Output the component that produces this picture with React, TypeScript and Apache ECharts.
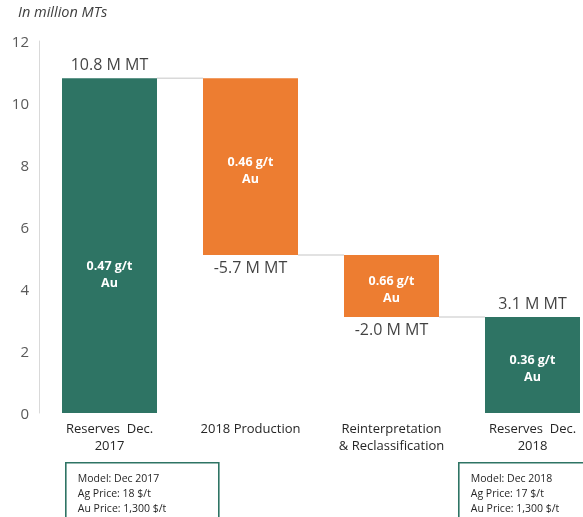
import React, { useEffect, useRef } from "react";
import * as echarts from "echarts";

const categories = [
  "Reserves  Dec.\n2017",
  "2018 Production",
  "Reinterpretation\n& Reclassification",
  "Reserves  Dec.\n2018",
];
const changes = [10.8, -5.7, -2.0, 3.1];
const isTotal = [true, false, false, true];
const grades = ["0.47 g/t", "0.46 g/t", "0.66 g/t", "0.36 g/t"];
const valueLabels = ["10.8 M MT", "-5.7 M MT", "-2.0 M MT", "3.1 M MT"];
const yMin = 0;
const yMax = 12;
const yInterval = 2;
const unitTitle = "In million MTs";
const boxLeft = [
  "Model: Dec 2017",
  "Ag Price: 18 $/t",
  "Au Price: 1,300 $/t",
];
const boxRight = [
  "Model: Dec 2018",
  "Ag Price: 17 $/t",
  "Au Price: 1,300 $/t",
];

const GREEN = "#2E7464";
const ORANGE = "#ED7D31";
const FONT = "'Open Sans', 'Noto Sans', sans-serif";
const BAR_W = 95;

export default function App() {
  const ref = useRef<HTMLDivElement>(null);

  useEffect(() => {
    if (!ref.current) return;
    const chart = echarts.init(ref.current, undefined, { renderer: "svg" });

    // waterfall geometry from the data
    const bases: number[] = [];
    const heights: number[] = [];
    const levels: number[] = [];
    let running = 0;
    changes.forEach((c, i) => {
      if (isTotal[i]) {
        bases.push(0);
        heights.push(c);
        running = c;
      } else {
        const next = running + c;
        bases.push(Math.min(running, next));
        heights.push(Math.abs(c));
        running = next;
      }
      levels.push(Math.round(running * 100) / 100);
    });

    const connectorData = levels.slice(0, -1).map((lv, i) => [i, lv]);

    const topLabels: any[] = [];
    const bottomLabels: any[] = [];
    changes.forEach((c, i) => {
      if (c >= 0) {
        topLabels.push({ value: [i, bases[i] + heights[i]], name: valueLabels[i] });
      } else {
        bottomLabels.push({ value: [i, bases[i]], name: valueLabels[i] });
      }
    });

    const boxText = (lines: string[], x: number) => ({
      type: "group",
      left: x,
      top: 462,
      children: [
        {
          type: "rect",
          shape: { x: 0, y: 0, width: 153, height: 70 },
          style: { fill: "#fff", stroke: GREEN, lineWidth: 1.6 },
        },
        {
          type: "text",
          x: 12,
          y: 8,
          style: {
            text: lines.join("\n"),
            font: `10.5px ${FONT}`,
            fill: "#262626",
            lineHeight: 15,
          },
        },
      ],
    });

    chart.setOption({
      animation: false,
      grid: {
        left: 39,
        right: -20,
        top: 41,
        bottom: 104,
        containLabel: false,
        outerBoundsMode: "none",
      },
      xAxis: {
        type: "category",
        data: categories,
        axisLine: { show: false },
        axisTick: { show: false },
        axisLabel: {
          interval: 0,
          margin: 6,
          color: "#262626",
          fontFamily: FONT,
          fontSize: 13,
          lineHeight: 17,
        },
      },
      yAxis: {
        type: "value",
        min: yMin,
        max: yMax,
        interval: yInterval,
        splitLine: { show: false },
        axisTick: { show: false },
        axisLine: { show: true, lineStyle: { color: "#D9D9D9", width: 1 } },
        axisLabel: {
          margin: 10,
          color: "#595959",
          fontFamily: FONT,
          fontSize: 15,
        },
      },
      series: [
        {
          name: "connectors",
          type: "custom",
          z: 1,
          silent: true,
          data: connectorData,
          renderItem: (params: any, api: any) => {
            const p = api.coord([api.value(0), api.value(1)]);
            const band = api.size([1, 0])[0];
            return {
              type: "line",
              shape: {
                x1: p[0] + BAR_W / 2,
                y1: p[1],
                x2: p[0] + band - BAR_W / 2,
                y2: p[1],
              },
              style: { stroke: "#D9D9D9", lineWidth: 1.5 },
            };
          },
        },
        {
          name: "base",
          type: "bar",
          stack: "wf",
          z: 2,
          barWidth: BAR_W,
          silent: true,
          itemStyle: { color: "transparent" },
          data: bases,
        },
        {
          name: "value",
          type: "bar",
          stack: "wf",
          z: 3,
          barWidth: BAR_W,
          data: heights.map((h, i) => ({
            value: h,
            itemStyle: { color: isTotal[i] ? GREEN : ORANGE },
            label: {
              show: true,
              position: "inside",
              offset: i === 0 ? [0, 28] : [0, 3],
              formatter: `${grades[i]}\nAu`,
              color: "#fff",
              fontFamily: FONT,
              fontWeight: "bold",
              fontSize: 12.5,
              lineHeight: 17,
            },
          })),
        },
        {
          name: "topLabels",
          type: "scatter",
          symbolSize: 0,
          z: 4,
          silent: true,
          data: topLabels,
          label: {
            show: true,
            position: "top",
            distance: 6,
            formatter: (p: any) => p.name,
            color: "#111",
            fontFamily: FONT,
            fontSize: 16,
          },
        },
        {
          name: "bottomLabels",
          type: "scatter",
          symbolSize: 0,
          z: 4,
          silent: true,
          data: bottomLabels,
          label: {
            show: true,
            position: "bottom",
            distance: 4,
            formatter: (p: any) => p.name,
            color: "#111",
            fontFamily: FONT,
            fontSize: 16,
          },
        },
      ],
      graphic: [
        {
          type: "text",
          left: 18,
          top: 4,
          style: {
            text: unitTitle,
            font: `italic 14.5px ${FONT}`,
            fill: "#404040",
          },
        },
        boxText(boxLeft, 65),
        boxText(boxRight, 458),
      ],
    });

    return () => chart.dispose();
  }, []);

  return (
    <div
      ref={ref}
      style={{ position: "fixed", left: 0, top: 0, width: 583, height: 517 }}
    />
  );
}
